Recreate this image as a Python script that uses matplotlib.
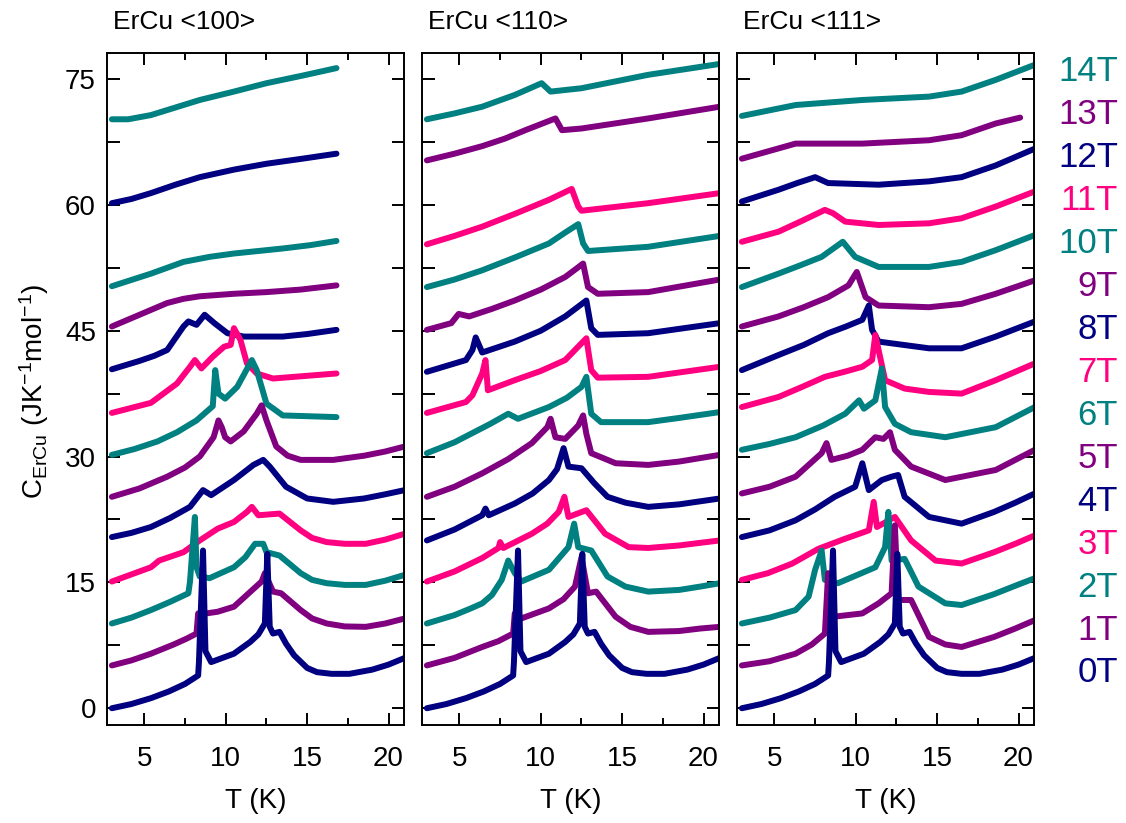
import numpy as np
import matplotlib
matplotlib.use('Agg')
from matplotlib import pyplot as plt
from matplotlib.ticker import MultipleLocator

plt.rcParams['font.family'] = ['Liberation Sans', 'DejaVu Sans']
plt.rcParams['mathtext.default'] = 'regular'

# specific heat of ErCu, each field curve shifted up by 5 J/K/mol per tesla
# zero field curve is the same measurement in all three panels
T_0T = [3.0, 4.2, 5.4, 6.5, 7.5, 8.3, 8.35, 8.6, 8.75, 9.1, 10.5, 11.5, 12.0, 12.4, 12.55, 12.7, 12.9, 13.3,
        13.7, 14.2, 15.0, 15.6, 16.5, 17.6, 19.0, 20.0, 21.0]
C_0T = [0.0, 0.5, 1.2, 2.0, 2.9, 3.9, 5.5, 18.8, 6.8, 5.5, 6.5, 7.9, 8.8, 10.1, 18.4, 9.7, 8.9, 9.1,
        7.7, 6.3, 4.8, 4.3, 4.1, 4.1, 4.6, 5.2, 6.0]

# <100>
T100_1T = [3.0, 4.2, 5.4, 6.8, 7.6, 8.2, 8.3, 8.8, 9.5, 10.5, 12.2, 12.4, 12.9, 13.4, 14.6, 15.3, 16.2, 17.3, 18.6, 19.8, 21.0]
C100_1T = [0.1, 0.7, 1.5, 2.6, 3.3, 3.9, 6.3, 6.3, 6.5, 7.1, 10.1, 11.1, 8.9, 8.7, 6.7, 5.7, 5.1, 4.75, 4.7, 5.1, 5.7]
T100_2T = [3.0, 4.2, 5.4, 6.6, 7.7, 7.8, 8.1, 8.2, 8.4, 9.0, 10.5, 11.2, 11.8, 12.3, 12.5, 13.3, 14.6, 15.3, 16.2,
           17.3, 18.6, 19.8, 21.0]
C100_2T = [0.1, 0.8, 1.7, 2.7, 3.7, 5.1, 12.8, 6.8, 5.7, 5.5, 6.8, 8.0, 9.6, 9.6, 8.6, 8.2, 6.1, 5.3, 4.9,
           4.7, 4.7, 5.2, 5.9]
T100_3T = [3.0, 5.4, 5.9, 7.4, 8.4, 9.5, 10.5, 11.3, 11.6, 12.0, 13.3, 14.6, 15.3, 16.2, 17.3, 18.6, 19.8, 21.0]
C100_3T = [0.1, 1.8, 2.6, 3.6, 5.0, 6.4, 7.2, 8.4, 9.0, 8.0, 8.2, 6.2, 5.3, 4.8, 4.6, 4.6, 5.1, 5.8]
T100_4T = [3.0, 4.2, 5.4, 6.6, 7.8, 8.6, 9.1, 10.5, 11.7, 12.3, 12.7, 13.7, 15.0, 16.6, 18.5, 19.8, 21.0]
C100_4T = [0.4, 0.9, 1.6, 2.7, 4.0, 6.0, 5.4, 7.2, 9.0, 9.6, 8.8, 6.4, 5.0, 4.6, 5.0, 5.5, 6.0]
T100_5T = [3.0, 4.7, 6.4, 7.5, 8.4, 9.25, 9.55, 9.75, 9.96, 10.3, 11.1, 11.9, 12.2, 12.5, 13.1, 13.8, 14.6, 16.6,
           18.5, 19.8, 21.0]
C100_5T = [0.2, 1.2, 2.6, 3.7, 5.0, 7.3, 9.3, 8.5, 7.3, 6.8, 8.0, 10.1, 11.1, 9.3, 6.2, 5.1, 4.6, 4.6,
           5.1, 5.6, 6.2]
T100_6T = [3.0, 4.4, 5.8, 7.0, 8.2, 9.2, 9.35, 9.55, 9.96, 10.7, 11.6, 11.9, 12.5, 13.5, 16.8]
C100_6T = [0.2, 0.9, 1.8, 2.9, 4.3, 6.0, 10.3, 7.5, 6.9, 8.3, 11.5, 10.3, 6.3, 4.9, 4.7]
T100_7T = [3.0, 5.4, 7.0, 7.8, 8.1, 8.5, 9.2, 9.9, 10.3, 10.5, 10.9, 11.3, 11.9, 12.9, 16.8]
C100_7T = [0.2, 1.4, 3.7, 5.7, 6.5, 5.5, 6.9, 8.1, 8.3, 10.3, 8.9, 6.1, 4.9, 4.3, 4.9]
T100_8T = [3.0, 4.7, 5.6, 6.4, 7.4, 7.7, 8.2, 8.7, 9.3, 10.1, 11.1, 13.5, 15.0, 16.8]
C100_8T = [0.4, 1.4, 2.0, 2.7, 5.5, 6.1, 5.7, 6.9, 5.9, 4.7, 4.3, 4.3, 4.6, 5.1]
T100_9T = [3.0, 4.7, 6.4, 7.4, 8.4, 10.5, 12.5, 14.6, 16.8]
C100_9T = [0.5, 1.9, 3.3, 3.8, 4.1, 4.4, 4.6, 4.9, 5.4]
T100_10T = [3.0, 5.4, 7.4, 9.0, 10.5, 13.5, 15.2, 16.8]
C100_10T = [0.3, 1.8, 3.2, 3.8, 4.2, 4.8, 5.2, 5.7]
T100_12T = [3.0, 4.2, 5.4, 6.9, 8.4, 10.5, 12.5, 14.7, 16.8]
C100_12T = [0.2, 0.7, 1.4, 2.4, 3.3, 4.2, 4.9, 5.5, 6.1]
T100_14T = [3.0, 4.0, 5.4, 6.9, 8.4, 10.5, 12.5, 14.7, 16.8]
C100_14T = [0.2, 0.2, 0.7, 1.6, 2.5, 3.5, 4.5, 5.4, 6.3]

# <110>
T110_1T = [3.0, 4.7, 6.4, 7.4, 8.3, 8.4, 8.8, 10.5, 11.4, 12.1, 12.5, 12.9, 13.4, 14.6, 15.5, 16.6, 18.5, 19.8, 21.0]
C110_1T = [0.1, 1.0, 2.3, 3.0, 3.9, 6.3, 5.7, 6.9, 8.0, 9.5, 13.0, 8.7, 8.9, 5.9, 4.7, 4.1, 4.2, 4.5, 4.7]
T110_2T = [3.0, 4.7, 5.7, 6.4, 7.0, 7.6, 8.0, 8.4, 8.8, 10.5, 11.7, 12.05, 12.3, 13.1, 14.1, 15.2, 16.6, 18.5,
           19.8, 21.0]
C110_2T = [0.1, 1.1, 1.9, 2.5, 3.5, 5.3, 7.6, 6.1, 5.1, 6.5, 9.2, 12.0, 9.2, 8.8, 5.7, 4.5, 3.9, 4.1,
           4.5, 4.9]
T110_3T = [3.0, 4.7, 6.4, 7.4, 7.5, 7.7, 9.45, 10.4, 11.1, 11.45, 11.7, 12.8, 13.95, 15.4, 16.6, 18.5, 21.0]
C110_3T = [0.1, 1.3, 2.9, 4.1, 4.8, 4.1, 5.8, 7.0, 8.4, 10.2, 7.8, 8.6, 5.8, 4.2, 4.1, 4.4, 5.0]
T110_4T = [3.0, 4.7, 6.4, 6.6, 6.8, 8.4, 9.5, 10.5, 11.0, 11.4, 11.7, 12.5, 13.3, 14.1, 15.2, 16.6, 18.5, 21.0]
C110_4T = [0.0, 1.3, 3.0, 3.8, 3.0, 4.4, 5.6, 7.2, 8.5, 11.0, 8.8, 8.6, 6.8, 5.2, 4.5, 4.0, 4.3, 5.0]
T110_5T = [3.0, 4.7, 6.4, 8.0, 9.45, 10.4, 10.6, 10.9, 11.5, 12.3, 12.6, 12.8, 13.1, 14.6, 16.6, 18.5, 21.0]
C110_5T = [0.2, 1.4, 3.0, 4.7, 6.6, 8.5, 9.5, 7.3, 7.1, 8.7, 9.9, 7.7, 5.4, 4.2, 4.0, 4.4, 5.2]
T110_6T = [3.0, 4.7, 6.4, 6.9, 8.0, 8.6, 10.5, 11.6, 12.5, 12.8, 13.1, 13.7, 16.6, 18.5, 21.0]
C110_6T = [0.4, 1.7, 3.4, 3.9, 5.1, 4.5, 5.9, 7.0, 8.3, 9.5, 5.1, 4.1, 4.1, 4.6, 5.3]
T110_7T = [3.0, 5.4, 5.8, 6.4, 6.6, 6.75, 8.4, 10.0, 11.5, 12.8, 13.1, 13.5, 16.6, 21.0]
C110_7T = [0.2, 1.5, 2.3, 4.9, 6.5, 2.9, 4.1, 5.2, 6.5, 9.1, 5.3, 4.4, 4.5, 5.7]
T110_8T = [3.0, 5.4, 5.8, 6.0, 6.4, 8.4, 10.0, 11.5, 12.8, 13.1, 13.5, 16.6, 21.0]
C110_8T = [0.1, 1.5, 2.7, 4.2, 2.4, 3.7, 5.0, 6.7, 8.6, 5.3, 4.5, 4.7, 5.9]
T110_9T = [3.0, 4.5, 4.95, 5.6, 7.0, 8.4, 10.0, 11.5, 12.6, 12.9, 13.5, 16.6, 21.0]
C110_9T = [0.1, 0.9, 2.0, 1.7, 2.6, 3.6, 4.9, 6.4, 8.0, 5.2, 4.4, 4.6, 6.1]
T110_10T = [3.0, 4.7, 6.4, 8.5, 10.5, 11.5, 12.3, 12.6, 12.9, 16.6, 21.0]
C110_10T = [0.2, 1.1, 2.2, 3.8, 5.4, 6.7, 7.7, 5.4, 4.5, 5.0, 6.3]
T110_11T = [3.0, 4.7, 6.4, 8.5, 10.5, 11.9, 12.3, 12.5, 16.6, 21.0]
C110_11T = [0.3, 1.3, 2.4, 4.0, 5.6, 6.9, 4.8, 4.3, 5.2, 6.4]
T110_13T = [3.0, 4.7, 6.4, 7.8, 9.05, 10.9, 11.3, 12.5, 16.6, 21.0]
C110_13T = [0.3, 1.1, 2.0, 2.9, 3.9, 5.3, 3.9, 4.1, 5.3, 6.7]
T110_14T = [3.0, 4.7, 6.4, 8.4, 10.05, 10.6, 12.5, 16.6, 21.0]
C110_14T = [0.2, 0.9, 1.7, 3.1, 4.5, 3.5, 3.9, 5.5, 6.8]

# <111>
T111_1T = [3.0, 4.7, 6.3, 7.3, 8.1, 8.3, 8.6, 10.4, 11.4, 12.2, 12.4, 12.6, 13.4, 14.5, 15.5, 16.5, 18.5, 19.8, 21.0]
C111_1T = [0.1, 0.6, 1.5, 2.6, 3.9, 11.1, 5.9, 6.3, 7.5, 8.7, 16.8, 7.9, 7.9, 3.5, 2.6, 2.3, 3.5, 4.5, 5.5]
T111_2T = [3.0, 4.7, 6.3, 7.1, 7.5, 7.9, 8.1, 8.9, 11.2, 11.8, 12.0, 12.2, 13.0, 13.85, 15.5, 16.5, 18.5, 19.8, 21.0]
C111_2T = [0.1, 0.8, 1.7, 3.3, 6.5, 8.8, 5.3, 4.9, 6.8, 9.2, 13.4, 7.6, 7.8, 4.5, 2.5, 2.3, 3.6, 4.6, 5.5]
T111_3T = [3.0, 4.6, 6.1, 7.7, 9.2, 10.8, 11.1, 11.3, 12.4, 13.4, 14.9, 16.5, 18.5, 19.8, 21.0]
C111_3T = [0.3, 1.1, 2.25, 4.0, 5.1, 6.2, 9.6, 6.6, 7.8, 5.0, 2.6, 2.25, 3.6, 4.6, 5.6]
T111_4T = [3.0, 4.7, 6.3, 7.5, 8.7, 9.96, 10.4, 10.8, 11.6, 12.2, 12.6, 13.0, 14.5, 16.5, 18.5, 19.8, 21.0]
C111_4T = [0.4, 1.2, 2.4, 3.7, 5.2, 6.4, 9.2, 6.0, 7.2, 7.6, 7.8, 5.2, 2.8, 2.0, 3.4, 4.5, 5.6]
T111_5T = [3.0, 4.7, 6.3, 7.9, 8.2, 8.5, 9.5, 10.4, 11.2, 11.7, 12.1, 12.4, 13.4, 15.5, 18.6, 21.0]
C111_5T = [0.6, 1.4, 2.6, 5.4, 6.6, 4.6, 5.1, 5.8, 7.3, 7.1, 7.9, 5.8, 3.8, 2.2, 3.4, 5.8]
T111_6T = [3.0, 4.7, 6.3, 8.0, 9.35, 10.2, 10.5, 11.2, 11.6, 11.8, 12.4, 13.4, 15.5, 18.6, 21.0]
C111_6T = [0.8, 1.5, 2.3, 3.7, 5.1, 6.7, 5.7, 6.7, 10.5, 5.9, 3.9, 2.9, 2.3, 3.5, 5.9]
T111_7T = [3.0, 5.25, 6.7, 8.1, 9.3, 10.4, 11.0, 11.2, 11.4, 11.8, 13.0, 14.5, 16.5, 18.6, 21.0]
C111_7T = [0.9, 2.1, 3.3, 4.5, 5.1, 5.7, 6.5, 9.5, 7.7, 4.1, 3.1, 2.7, 2.5, 4.1, 6.1]
T111_8T = [3.0, 5.25, 6.8, 8.3, 9.4, 10.4, 10.8, 11.0, 11.4, 14.5, 16.5, 18.6, 21.0]
C111_8T = [0.3, 2.1, 3.3, 4.7, 5.5, 6.3, 8.0, 5.1, 3.7, 2.9, 2.9, 4.3, 6.1]
T111_9T = [3.0, 5.25, 6.8, 8.3, 9.55, 10.06, 10.6, 11.4, 14.5, 16.5, 18.6, 21.0]
C111_9T = [0.5, 1.7, 2.8, 4.0, 5.4, 7.0, 4.0, 3.0, 2.8, 3.2, 4.4, 6.0]
T111_10T = [3.0, 5.25, 6.6, 7.9, 9.2, 9.96, 11.4, 14.5, 16.5, 18.6, 21.0]
C111_10T = [0.2, 1.8, 2.8, 3.8, 5.6, 3.8, 2.6, 2.6, 3.2, 4.6, 6.4]
T111_11T = [3.0, 5.25, 6.7, 8.1, 8.6, 9.35, 11.4, 14.5, 16.5, 18.6, 21.0]
C111_11T = [0.6, 1.8, 3.1, 4.4, 4.0, 3.0, 2.6, 2.8, 3.4, 4.8, 6.6]
T111_12T = [3.0, 5.25, 6.4, 7.5, 8.3, 11.4, 14.5, 16.5, 18.6, 21.0]
C111_12T = [0.4, 1.8, 2.6, 3.3, 2.6, 2.4, 2.8, 3.3, 4.7, 6.7]
T111_13T = [3.0, 6.3, 10.4, 14.5, 16.5, 18.6, 20.1]
C111_13T = [0.5, 2.3, 2.3, 2.7, 3.3, 4.7, 5.4]
T111_14T = [3.0, 6.3, 10.4, 14.5, 16.5, 18.6, 21.0]
C111_14T = [0.6, 1.9, 2.5, 2.9, 3.5, 4.9, 6.7]

titles = ['ErCu <100>', 'ErCu <110>', 'ErCu <111>']
field_labels = ['%dT' % n for n in range(15)]
colors = ['#000080', '#800080', '#008080', '#FF0080']  # navy, purple, teal, pink
shift = 5

panels = [
    [(0, T_0T, C_0T), (1, T100_1T, C100_1T), (2, T100_2T, C100_2T), (3, T100_3T, C100_3T),
     (4, T100_4T, C100_4T), (5, T100_5T, C100_5T), (6, T100_6T, C100_6T), (7, T100_7T, C100_7T),
     (8, T100_8T, C100_8T), (9, T100_9T, C100_9T), (10, T100_10T, C100_10T),
     (12, T100_12T, C100_12T), (14, T100_14T, C100_14T)],
    [(0, T_0T, C_0T), (1, T110_1T, C110_1T), (2, T110_2T, C110_2T), (3, T110_3T, C110_3T),
     (4, T110_4T, C110_4T), (5, T110_5T, C110_5T), (6, T110_6T, C110_6T), (7, T110_7T, C110_7T),
     (8, T110_8T, C110_8T), (9, T110_9T, C110_9T), (10, T110_10T, C110_10T),
     (11, T110_11T, C110_11T), (13, T110_13T, C110_13T), (14, T110_14T, C110_14T)],
    [(0, T_0T, C_0T), (1, T111_1T, C111_1T), (2, T111_2T, C111_2T), (3, T111_3T, C111_3T),
     (4, T111_4T, C111_4T), (5, T111_5T, C111_5T), (6, T111_6T, C111_6T), (7, T111_7T, C111_7T),
     (8, T111_8T, C111_8T), (9, T111_9T, C111_9T), (10, T111_10T, C111_10T),
     (11, T111_11T, C111_11T), (12, T111_12T, C111_12T), (13, T111_13T, C111_13T),
     (14, T111_14T, C111_14T)],
]

fig = plt.figure(figsize=(11.26, 8.23), dpi=100)
lefts = [107 / 1126, 422 / 1126, 737 / 1126]
w, bottom, h = 297 / 1126, 1 - 725 / 823, 672 / 823

for k, curves in enumerate(panels):
    ax = fig.add_axes([lefts[k], bottom, w, h])
    # low fields drawn last so they sit on top
    for n, t, c in sorted(curves, key=lambda q: -q[0]):
        ax.plot(t, np.array(c) + shift * n, color=colors[n % 4], lw=4.3,
                solid_capstyle='round', solid_joinstyle='round')
    ax.set_xlim(2.7, 20.95)
    ax.set_ylim(-2, 78.1)
    ax.xaxis.set_major_locator(MultipleLocator(5))
    ax.xaxis.set_minor_locator(MultipleLocator(2.5))
    ax.yaxis.set_major_locator(MultipleLocator(15))
    ax.yaxis.set_minor_locator(MultipleLocator(7.5))
    ax.tick_params(which='both', direction='in', top=True, right=True, width=1.4, labelsize=20)
    ax.tick_params(axis='x', which='major', length=8.4, pad=15)
    ax.tick_params(axis='x', which='minor', length=4.8)
    ax.tick_params(axis='y', which='both', length=9, pad=8)
    if k > 0:
        ax.tick_params(axis='y', labelleft=False)
    for s in ax.spines.values():
        s.set_linewidth(1.4)
    ax.set_xlabel('T (K)', fontsize=20, labelpad=12)
    fig.text(lefts[k] + 6 / 1126, 1 - 29 / 823, titles[k], fontsize=19, va='baseline')

fig.text(34 / 1126, 0.524, r'C$_{ErCu}$ (JK$^{-1}$mol$^{-1}$)', fontsize=20,
         rotation=90, ha='center', va='center')

# field labels on the right, coloured like the curves
for n, lab in enumerate(field_labels):
    fig.text(1118 / 1126, 1 - (682.5 - 42.93 * n) / 823, lab, color=colors[n % 4],
             fontsize=25, ha='right', va='baseline')

plt.savefig('out.png', dpi=100)
